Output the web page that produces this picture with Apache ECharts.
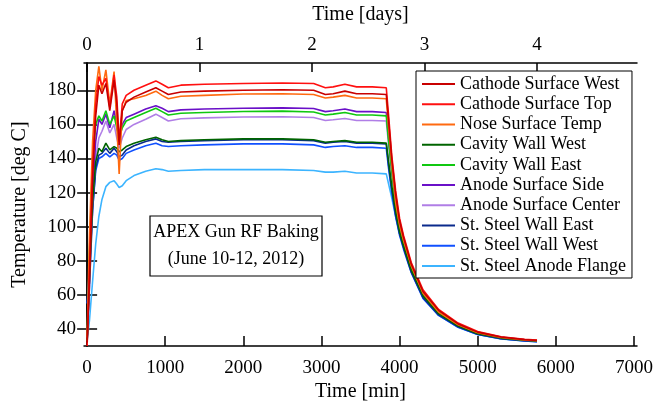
<!DOCTYPE html>
<html>
<head>
    <meta charset="utf-8">
    <script src="https://cdn.jsdelivr.net/npm/echarts@6.0.0/dist/echarts.min.js"></script>
    <style>
        html, body { margin: 0; padding: 0; background: #fff; }
    </style>
</head>
<body>
<div id="main" style="width: 662px;height:407px;"></div>
<script type="text/javascript">
    // time axis shared by all the channels (minutes)
    const timeMin = [0, 30, 70, 110, 150, 190, 240, 290, 345, 380,
        410, 450, 500, 600, 750, 880, 960, 1040, 1200, 1500,
        2000, 2500, 2900, 3050, 3150, 3300, 3450, 3650, 3830, 3860,
        3900, 3950, 4000, 4050, 4150, 4300, 4500, 4750, 5000, 5300,
        5600, 5760];

    // temperatures [deg C]
    const cathodeWest = [32, 70, 128, 165, 183, 178, 184, 168, 186, 172,
        148, 168, 173, 176, 179, 181.5, 179.5, 177.5, 179, 179.5,
        180, 180.3, 180, 177.5, 178, 179.5, 178, 178, 177.5, 162,
        140, 119, 103.5, 94, 78, 62, 51, 43, 38.2, 35.3,
        33.8, 33.3];
    const cathodeTop = [30, 75, 135, 172, 188, 183, 187, 170, 189, 176,
        150, 172, 177, 180, 183, 185.5, 183.5, 181.5, 183, 183.5,
        184, 184.3, 184, 181.5, 182, 183.5, 182, 182, 181.5, 165,
        142, 121, 105, 95, 79, 63, 51.5, 43.5, 38.5, 35.5,
        34, 33.5];
    const noseSurface = [35, 95, 150, 180, 194, 180, 192, 172, 191, 160,
        131, 168, 174, 175, 177, 179.5, 177, 175, 176.5, 177,
        177.8, 178, 177.5, 175.5, 176, 177, 175.5, 175.5, 175, 158,
        137, 114, 101, 92, 77, 61, 50, 42.5, 37.8, 35,
        33.6, 33.2];
    const cavityWallWest = [33, 70, 115, 138, 146, 144, 149, 145, 147, 146,
        144, 145, 147, 149, 151, 152.5, 151, 150, 150.5, 151,
        151.5, 151.5, 151, 149.5, 150, 150.5, 149.5, 149.5, 149, 138,
        124, 109, 97, 89, 74.5, 59.5, 49, 41.8, 37.3, 34.7,
        33.4, 33];
    const cavityWallEast = [33, 85, 140, 160, 165, 162, 168, 160, 165, 158,
        152, 158, 162, 164, 167, 169.5, 167.5, 165.5, 166.5, 167,
        167.6, 167.8, 167.3, 165.5, 166, 167, 165.5, 165.5, 165, 150,
        133, 113, 100, 91, 76, 60.5, 50, 42.5, 37.8, 35,
        33.6, 33.2];
    const anodeSide = [34, 70, 120, 150, 163, 160, 166, 158, 168, 160,
        150, 160, 164, 166, 169, 171, 169.5, 167.5, 168.5, 169,
        169.5, 169.7, 169.3, 167.5, 168, 169, 167.5, 167.5, 167, 152,
        134, 114, 101, 92, 77, 61, 50.5, 42.8, 38, 35.1,
        33.7, 33.2];
    const anodeCenter = [34, 65, 115, 140, 152, 156, 162, 155, 160, 152,
        146, 152, 157, 160, 163, 166, 164, 162, 163.3, 163.8,
        164.3, 164.5, 164, 162.3, 162.7, 163.5, 162.3, 162.3, 162, 148,
        131, 112, 99.5, 90.5, 75.5, 60, 49.7, 42.2, 37.6, 34.9,
        33.5, 33.1];
    const ssWallEast = [35, 65, 110, 135, 142, 143, 146, 143, 146, 144,
        141, 142, 145, 147.5, 150, 151.5, 150, 149.5, 150, 150.5,
        151, 151, 150.5, 149, 149.5, 150, 149, 149, 148.5, 136,
        122, 107, 96, 88, 73.5, 58.5, 48.3, 41.3, 37, 34.4,
        33.1, 32.7];
    const ssWallWest = [55, 75, 110, 133, 140, 141, 143, 141, 143, 142,
        139, 140, 143, 145, 147.5, 149, 147.5, 147, 147.5, 148,
        148.6, 148.6, 148, 146.5, 147, 147.5, 146.5, 146.5, 146, 134,
        120, 106, 95, 87, 73, 58, 48, 41, 36.8, 34.3,
        33, 32.6];
    const ssAnodeFlange = [33, 45, 68, 90, 106, 116, 123.5, 126, 127, 125,
        123, 124, 127, 130, 132.5, 134, 133.5, 132.5, 133, 133.5,
        133.5, 133.5, 133, 132, 132, 132.5, 131.5, 131.5, 131, 125,
        117, 106, 96, 89, 74, 58.5, 48, 41, 36.8, 34.2,
        33, 32.6];

    // tick labels
    const minTicks = [0, 1000, 2000, 3000, 4000, 5000, 6000, 7000];
    const dayTicks = [0, 1, 2, 3, 4];
    const tempTicks = [40, 60, 80, 100, 120, 140, 160, 180];

    const channels = [
        ['Cathode Surface West', cathodeWest, '#c80000'],
        ['Cathode Surface Top', cathodeTop, '#ff1010'],
        ['Nose Surface Temp', noseSurface, '#ff6a10'],
        ['Cavity Wall West', cavityWallWest, '#006400'],
        ['Cavity Wall East', cavityWallEast, '#10c810'],
        ['Anode Surface Side', anodeSide, '#6a10c8'],
        ['Anode Surface Center', anodeCenter, '#b07ee6'],
        ['St. Steel Wall East', ssWallEast, '#0a2a8c'],
        ['St. Steel Wall West', ssWallWest, '#1050ff'],
        ['St. Steel Anode Flange', ssAnodeFlange, '#3cb4ff']
    ];

    const serif = 'Liberation Serif';
    const dayMin = 1440;

    const myChart = echarts.init(document.getElementById('main'));

    // draw the red ones last so they sit on top, like the original
    const series = channels.slice().reverse().map(function (c) {
        return {
            name: c[0],
            type: 'line',
            showSymbol: false,
            symbol: 'none',
            color: c[2],
            lineStyle: {width: 1.6, color: c[2]},
            data: timeMin.map(function (t, i) { return [t, c[1][i]]; })
        };
    });

    const axisLine = {show: true, lineStyle: {color: '#000', width: 1.5}};
    const labelStyle = {color: '#000', fontFamily: serif, fontSize: 19};
    const nameStyle = {color: '#000', fontFamily: serif, fontSize: 20};
    const plain = function (v) { return String(v); };

    const option = {
        animation: false,
        backgroundColor: '#fff',
        grid: {left: 84, right: 25, top: 61, bottom: 58},
        legend: {
            orient: 'vertical',
            left: 416,
            top: 71,
            padding: [3, 6, 2, 6],
            itemGap: 0,
            itemWidth: 33,
            itemHeight: 2,
            icon: 'rect',
            borderColor: '#000',
            borderWidth: 1,
            backgroundColor: '#fff',
            data: channels.map(function (c) { return c[0]; }),
            textStyle: {color: '#000', fontFamily: serif, fontSize: 18, lineHeight: 20.2}
        },
        xAxis: [{
            type: 'value',
            position: 'bottom',
            min: -40,
            max: 7040,
            name: 'Time [min]',
            nameLocation: 'middle',
            nameGap: 32,
            nameTextStyle: nameStyle,
            axisLine: axisLine,
            axisTick: {inside: true, length: 10, customValues: minTicks, lineStyle: {color: '#000', width: 1.5}},
            axisLabel: Object.assign({customValues: minTicks, margin: 12, formatter: plain}, labelStyle),
            splitLine: {show: false}
        }, {
            type: 'value',
            position: 'top',
            min: -40,
            max: 7040,
            name: 'Time [days]',
            nameLocation: 'middle',
            nameGap: 38,
            nameTextStyle: nameStyle,
            axisLine: axisLine,
            axisTick: {inside: true, length: 9, customValues: dayTicks.map(function (d) { return d * dayMin; }), lineStyle: {color: '#000', width: 1.5}},
            axisLabel: Object.assign({
                customValues: dayTicks.map(function (d) { return d * dayMin; }),
                margin: 8,
                formatter: function (v) { return String(Math.round(v / dayMin)); }
            }, labelStyle),
            splitLine: {show: false}
        }],
        yAxis: [{
            type: 'value',
            position: 'left',
            min: 30,
            max: 196,
            name: 'Temperature [deg C]',
            nameLocation: 'middle',
            nameGap: 54,
            nameTextStyle: nameStyle,
            axisLine: axisLine,
            axisTick: {inside: true, length: 10, customValues: tempTicks, lineStyle: {color: '#000', width: 1.5}},
            axisLabel: Object.assign({customValues: tempTicks, margin: 8, formatter: plain}, labelStyle),
            splitLine: {show: false}
        }, {
            type: 'value',
            position: 'right',
            min: 30,
            max: 196,
            axisLine: axisLine,
            axisTick: {inside: true, length: 10, customValues: tempTicks, lineStyle: {color: '#000', width: 1.5}},
            axisLabel: {show: false},
            splitLine: {show: false}
        }],
        graphic: [{
            type: 'rect',
            shape: {x: 150, y: 216, width: 172, height: 60},
            style: {fill: '#fff', stroke: '#000', lineWidth: 1.2},
            z: 10
        }, {
            type: 'text',
            x: 236,
            y: 246,
            style: {
                text: 'APEX Gun RF Baking\n(June 10-12, 2012)',
                fill: '#000',
                font: '18px "Liberation Serif"',
                align: 'center',
                verticalAlign: 'middle',
                lineHeight: 27
            },
            z: 11
        }],
        series: series
    };

    myChart.setOption(option);
</script>
</body>
</html>
